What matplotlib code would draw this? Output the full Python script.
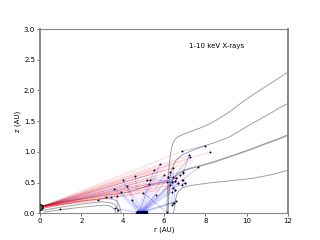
import numpy as np
import matplotlib
matplotlib.use("Agg")
import matplotlib.pyplot as plt

# ==========================================
# 1. DATA
# ==========================================
source = (0.0, 0.10)

# grey flow lines (r, z) in AU
flow_a = [(6.13, 0.00), (6.15, 0.20), (6.18, 0.40), (6.21, 0.62), (6.26, 0.80), (6.32, 0.97),
          (6.38, 1.08), (6.45, 1.16), (6.55, 1.21), (6.69, 1.25), (6.95, 1.29), (7.26, 1.33),
          (7.75, 1.39), (8.23, 1.46), (8.75, 1.56), (9.20, 1.66), (9.75, 1.80), (10.3, 1.93),
          (10.9, 2.06), (11.5, 2.19), (12.0, 2.30)]
flow_b = [(6.18, 0.00), (6.20, 0.20), (6.24, 0.42), (6.30, 0.60), (6.40, 0.74), (6.55, 0.85),
          (6.75, 0.92), (6.93, 0.96), (7.40, 1.03), (7.98, 1.10), (8.60, 1.17), (9.20, 1.25),
          (9.80, 1.37), (10.3, 1.47), (11.0, 1.60), (11.5, 1.70), (12.0, 1.79)]
flow_c = [(6.20, 0.00), (6.22, 0.20), (6.26, 0.38), (6.32, 0.48), (6.45, 0.56), (6.61, 0.62),
          (6.93, 0.69), (7.30, 0.73), (7.66, 0.76), (8.40, 0.83), (9.20, 0.92), (9.80, 0.99),
          (10.3, 1.05), (11.0, 1.14), (11.5, 1.20), (12.0, 1.27)]
flow_d = [(6.45, 0.00), (6.50, 0.08), (6.53, 0.16), (6.57, 0.24), (6.63, 0.32), (6.73, 0.37),
          (6.85, 0.41), (7.10, 0.44), (7.42, 0.46), (8.30, 0.50), (9.20, 0.53), (10.3, 0.57),
          (11.2, 0.63), (12.0, 0.70)]
flow_e = [(0.05, 0.12), (1.00, 0.18), (2.18, 0.24), (3.23, 0.30), (3.79, 0.32), (4.30, 0.35),
          (4.80, 0.40), (5.32, 0.46), (5.80, 0.50), (6.10, 0.51), (6.32, 0.51), (6.45, 0.57),
          (6.61, 0.63), (6.93, 0.70), (7.30, 0.74), (7.66, 0.77), (8.40, 0.84), (9.20, 0.93),
          (9.80, 1.00), (10.3, 1.06), (11.0, 1.15), (11.5, 1.21), (12.0, 1.28)]
flow_f = [(0.10, 0.08), (1.00, 0.14), (2.00, 0.20), (2.98, 0.24), (3.30, 0.24), (3.55, 0.23),
          (3.70, 0.20), (3.79, 0.16), (3.86, 0.10), (3.92, 0.03), (3.94, 0.00)]
flow_g = [(0.15, 0.05), (1.00, 0.10), (2.00, 0.15), (2.98, 0.19), (3.25, 0.18), (3.47, 0.17),
          (3.62, 0.14), (3.71, 0.11), (3.75, 0.05), (3.76, 0.00)]
flow_h = [(0.20, 0.02), (1.00, 0.06), (2.00, 0.10), (2.98, 0.13), (3.20, 0.13), (3.39, 0.12),
          (3.52, 0.09), (3.63, 0.05), (3.66, 0.00)]
flows = [flow_a, flow_b, flow_c, flow_d, flow_e, flow_f, flow_g, flow_h]

# photon paths: first leg (from the source) in red, later legs in blue
paths = [
    [(8.22, 1.00)],
    [(7.22, 0.95), (6.93, 0.67)],
    [(6.86, 1.01), (7.98, 1.10)],
    [(7.26, 0.91), (6.45, 0.59)],
    [(6.29, 0.67), (6.53, 0.38), (6.48, 0.17)],
    [(6.93, 0.55), (7.66, 0.75)],
    [(6.60, 0.57), (6.20, 0.59), (4.90, 0.01)],
    [(6.45, 0.74), (6.37, 0.13)],
    [(7.00, 0.49), (6.86, 0.46)],
    [(6.37, 0.51), (4.95, 0.01)],
    [(5.32, 0.55), (6.53, 0.52)],
    [(5.29, 0.48), (4.80, 0.01)],
    [(2.82, 0.21), (3.18, 0.26), (3.43, 0.27), (3.71, 0.29), (3.76, 0.06)],
    [(6.45, 0.41), (7.00, 0.49)],
    [(6.13, 0.51), (6.70, 0.49)],
    [(6.77, 0.62), (6.93, 0.65)],
    [(5.00, 0.33), (6.13, 0.02)],
]

# faint rays with no interaction shown
faint_red_ends = [(5.24, 0.76), (5.80, 0.80), (6.50, 0.85), (6.00, 0.72), (7.00, 0.70),
                  (6.80, 0.78), (5.50, 0.65), (7.30, 0.82), (6.20, 0.45), (5.80, 0.40),
                  (7.50, 0.88), (6.60, 0.66), (5.00, 0.48), (7.10, 0.62), (4.60, 0.30),
                  (6.90, 0.52), (4.20, 0.42), (4.80, 0.55)]
faint_blue_ends = [(6.00, 0.70), (6.50, 0.63), (5.50, 0.60), (6.80, 0.58), (6.30, 0.78),
                   (5.00, 0.52), (4.50, 0.45)]

# scattered paths from the midplane clump near r = 5 AU
clump_r = [4.70, 4.76, 4.82, 4.88, 4.94, 5.00, 5.06, 5.12]
clump_z = [0.01, 0.02, 0.01, 0.02, 0.01, 0.02, 0.01, 0.02]
clump_out = [(4.00, 0.55), (4.20, 0.45), (3.60, 0.40), (4.43, 0.22), (3.63, 0.08),
             (6.42, 0.17), (5.80, 0.80), (6.29, 0.46), (6.37, 0.35), (5.50, 0.70),
             (6.00, 0.62), (4.60, 0.60), (3.90, 0.35), (6.60, 0.20), (5.60, 0.30),
             (5.16, 0.55), (6.70, 0.49), (6.55, 0.52)]
extra_dots = [(0.97, 0.07), (6.60, 0.57), (6.20, 0.59), (6.86, 0.54), (6.53, 0.38)]

# ==========================================
# 2. PLOT
# ==========================================
fig, ax = plt.subplots(figsize=(3.2, 2.4), dpi=100)

for fl in flows:
    r, z = zip(*fl)
    ax.plot(r, z, color='#a0a0a0', lw=0.7, zorder=2)

for end in faint_red_ends:
    ax.plot([source[0], end[0]], [source[1], end[1]], color='red', lw=0.5, alpha=0.13, zorder=3)
for end in faint_blue_ends:
    ax.plot([source[0], end[0]], [source[1], end[1]], color='blue', lw=0.5, alpha=0.14, zorder=3)

for r0, z0 in zip(clump_r[::2], clump_z[::2]):
    for end in clump_out:
        ax.plot([r0, end[0]], [z0, end[1]], color='blue', lw=0.4, alpha=0.11, zorder=3)

dots = []
for p in paths:
    pts = [source] + p
    ax.plot([pts[0][0], pts[1][0]], [pts[0][1], pts[1][1]], color='red', lw=0.5, alpha=0.22, zorder=4)
    if len(pts) > 2:
        r, z = zip(*pts[1:])
        ax.plot(r, z, color='blue', lw=0.5, alpha=0.3, zorder=4)
    dots.extend(p)
dots.extend(clump_out)
dots.extend(extra_dots)

dr, dz = zip(*dots)
ax.plot(dr, dz, 'o', color='#000033', ms=1.4, mew=0, zorder=5)
ax.plot(clump_r, clump_z, 'o', color='#000033', ms=2.6, mew=0, zorder=5)
ax.plot(*source, 'o', mfc='#555555', mec='black', ms=4, mew=0.8, zorder=6)

ax.text(8.52, 2.72, '1-10 keV X-rays', fontsize=5, ha='center', va='center')

ax.set_xlim(0, 12)
ax.set_ylim(0, 3)
ax.set_xticks([0, 2, 4, 6, 8, 10, 12])
ax.set_yticks([0.0, 0.5, 1.0, 1.5, 2.0, 2.5, 3.0])
ax.set_xlabel('r (AU)', fontsize=5, labelpad=2)
ax.set_ylabel('z (AU)', fontsize=5, labelpad=2)
ax.tick_params(labelsize=5, length=2, width=0.6, color='#555555', pad=1.5)
for s in ax.spines.values():
    s.set_color('#888888')
    s.set_linewidth(0.8)
ax.spines['left'].set_linewidth(1.4)
ax.spines['right'].set_linewidth(1.4)

fig.subplots_adjust(left=0.125, right=0.9, bottom=0.111, top=0.879)
fig.savefig('out.png', dpi=100)
